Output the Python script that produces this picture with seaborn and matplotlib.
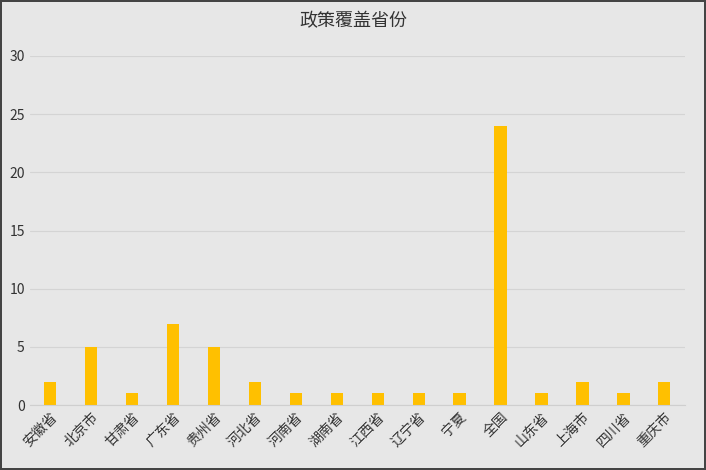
import matplotlib.pyplot as plt
import seaborn as sns
import pandas as pd

provinces = ["安徽省", "北京市", "甘肃省", "广东省", "贵州省", "河北省", "河南省", "湖南省",
             "江西省", "辽宁省", "宁夏", "全国", "山东省", "上海市", "四川省", "重庆市"]
counts = [2, 5, 1, 7, 5, 2, 1, 1, 1, 1, 1, 24, 1, 2, 1, 2]

sns.set_style("white")
plt.rcParams['font.family'] = ['Noto Sans CJK SC', 'DejaVu Sans']

df = pd.DataFrame({"省份": provinces, "数量": counts})

fig = plt.figure(figsize=(7.06, 4.70), dpi=100, facecolor="#e7e7e7")
fig.patch.set_edgecolor("#444444")
fig.patch.set_linewidth(1.5)
ax = fig.add_axes([0.042, 0.138, 0.928, 0.743])
ax.set_facecolor("#e7e7e7")

sns.barplot(data=df, x="省份", y="数量", color="#ffc000", width=0.3, saturation=1,
            edgecolor="none", linewidth=0, ax=ax)

ax.set_ylim(0, 30)
ax.set_yticks(range(0, 31, 5))
ax.yaxis.grid(True, color="#d4d4d4", linewidth=0.8)
ax.set_axisbelow(True)
for s in ["top", "right", "left"]:
    ax.spines[s].set_visible(False)
ax.spines["bottom"].set_color("#cfcfcf")
ax.set_xlabel("")
ax.set_ylabel("")
ax.tick_params(axis="both", length=0, labelsize=10, colors="#333333")
plt.setp(ax.get_xticklabels(), rotation=45, ha="right", rotation_mode="anchor")
fig.suptitle("政策覆盖省份", y=0.975, fontsize=13, color="#333333")

fig.savefig("out.png", dpi=100, facecolor=fig.get_facecolor(), edgecolor=fig.patch.get_edgecolor())
